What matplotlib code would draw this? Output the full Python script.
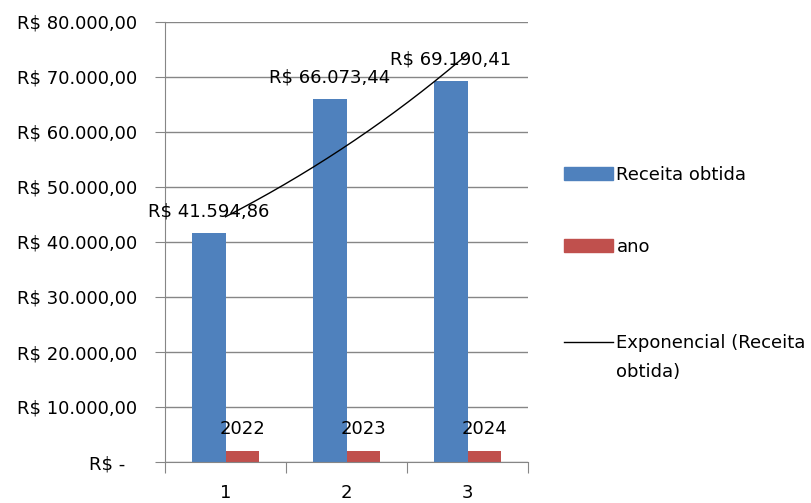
import numpy as np
import matplotlib
matplotlib.use("Agg")
import matplotlib.pyplot as plt
from matplotlib.patches import Patch
from matplotlib.lines import Line2D

# dados
categorias = [1, 2, 3]
receita = [41594.86, 66073.44, 69190.41]
ano = [2022, 2023, 2024]
y_ticks = [0, 10000, 20000, 30000, 40000, 50000, 60000, 70000, 80000]

AZUL = "#4F81BD"
VERMELHO = "#C0504D"
CINZA = "#868686"

plt.rcParams["font.family"] = ["DejaVu Sans"]
plt.rcParams["font.size"] = 13


def reais(v):
    if v == 0:
        return "R$ -  "
    s = f"{v:,.2f}".replace(",", "X").replace(".", ",").replace("X", ".")
    return "R$ " + s


fig = plt.figure(figsize=(8.11, 5.03), dpi=100)
ax = fig.add_axes([165 / 811, 1 - 462 / 503, (528 - 165) / 811, (462 - 22) / 503])

x = np.array(categorias, dtype=float)
w = 0.28
b1 = ax.bar(x - w / 2, receita, w, color=AZUL, zorder=2)
b2 = ax.bar(x + w / 2, ano, w, color=VERMELHO, zorder=2)

ax.bar_label(b1, labels=[reais(v) for v in receita], padding=9, fontsize=13, zorder=4)
ax.bar_label(b2, labels=[str(v) for v in ano], padding=9, fontsize=13, zorder=4)

# linha de tendência exponencial (ajuste do Excel)
coef = np.polyfit(x, np.log(receita), 1)
xt = np.linspace(1, 3, 200)
ax.plot(xt, np.exp(np.polyval(coef, xt)), color="black", lw=1, zorder=3)

ax.set_xlim(0.5, 3.5)
ax.set_ylim(0, 80000)
ax.set_yticks(y_ticks)
ax.set_yticklabels([reais(v) for v in y_ticks])
ax.yaxis.grid(True, color=CINZA, lw=1)
ax.set_axisbelow(True)

ax.set_xticks([0.5, 1.5, 2.5, 3.5])
ax.set_xticklabels([])
ax.set_xticks(categorias, minor=True)
ax.set_xticklabels([str(c) for c in categorias], minor=True)
ax.tick_params(axis="x", which="major", length=8, color=CINZA, direction="out")
ax.tick_params(axis="x", which="minor", length=0, pad=16)
ax.tick_params(axis="y", length=7, color=CINZA, pad=13)

for s in ["top", "right"]:
    ax.spines[s].set_visible(False)
for s in ["left", "bottom"]:
    ax.spines[s].set_color(CINZA)

# legenda: uma entrada por vez para o espaçamento do Excel
handles = [Patch(color=AZUL), Patch(color=VERMELHO), Line2D([], [], color="black", lw=1)]
nomes = ["Receita obtida", "ano", "Exponencial (Receita"]
posicoes = [175, 247, 343]
for h, n, py in zip(handles, nomes, posicoes):
    fig.legend([h], [n], loc="center left", bbox_to_anchor=(555 / 811, 1 - py / 503),
               frameon=False, handlelength=2.7, handletextpad=0.2, borderpad=0, fontsize=13)
fig.text(616 / 811, 1 - 372 / 503, "obtida)", ha="left", va="center", fontsize=13)

fig.savefig("out.png", dpi=100)
